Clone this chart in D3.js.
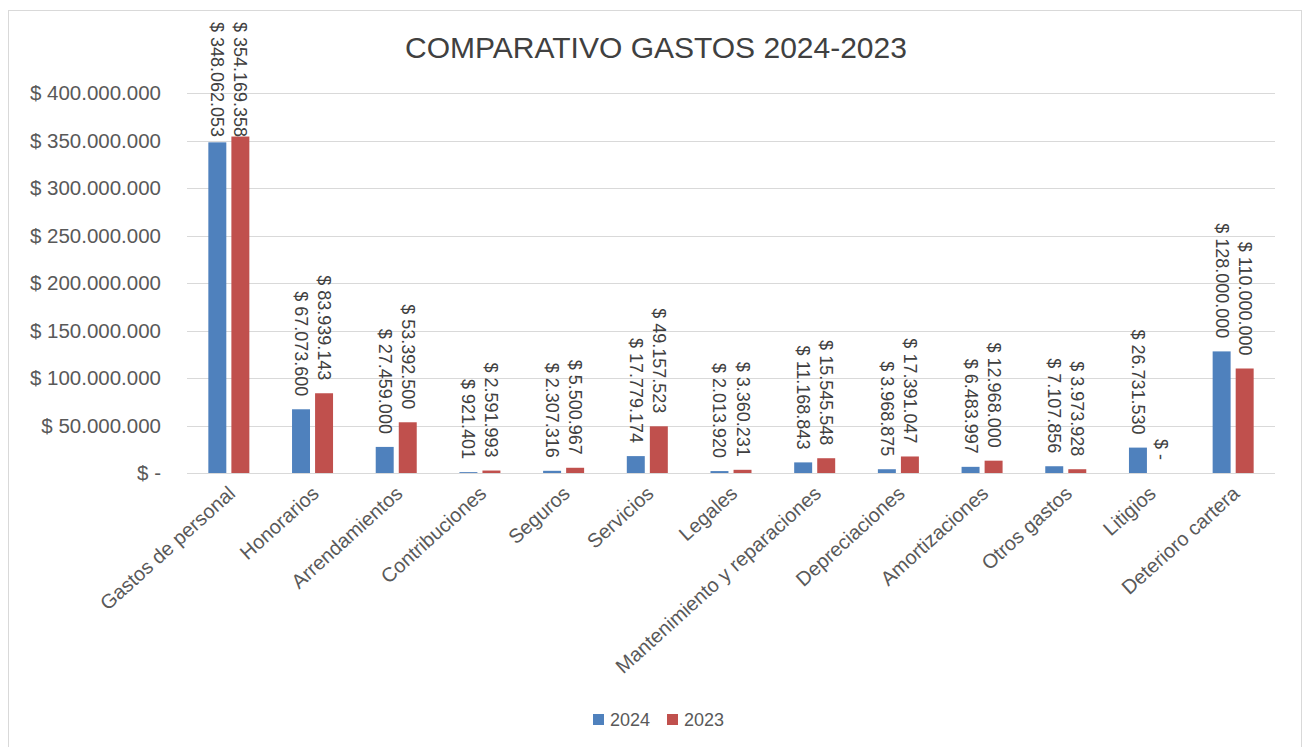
<!DOCTYPE html>
<html>
<head>
<meta charset="utf-8">
<script src="https://cdn.jsdelivr.net/npm/d3@7"></script>
<style>
  html, body { margin: 0; padding: 0; background: #fff; }
  svg { display: block; font-family: "Liberation Sans", Arial, sans-serif; }
</style>
</head>
<body>
<svg id="chart" width="1304" height="747"></svg>
<script>
const title = "COMPARATIVO GASTOS 2024-2023";
const categories = ["Gastos de personal", "Honorarios", "Arrendamientos", "Contribuciones", "Seguros", "Servicios", "Legales", "Mantenimiento y reparaciones", "Depreciaciones", "Amortizaciones", "Otros gastos", "Litigios", "Deterioro cartera"];
const seriesNames = ["2024", "2023"];
const values2024 = [348062053, 67073600, 27459000, 921401, 2307316, 17779174, 2013920, 11168843, 3968875, 6483997, 7107856, 26731530, 128000000];
const values2023 = [354169358, 83939143, 53392500, 2591993, 5500967, 49157523, 3360231, 15545548, 17391047, 12968000, 3973928, 0, 110000000];
const yTicks = [0, 50000000, 100000000, 150000000, 200000000, 250000000, 300000000, 350000000, 400000000];
const colors = ["#4F81BD", "#C0504D"];

(function() {
const locale = d3.formatLocale({decimal: ",", thousands: ".", grouping: [3], currency: ["$", ""]});
const fmt = locale.format(",d");
const money = v => v === 0 ? "$ -" : "$ " + fmt(v);

const svg = d3.select("#chart");
const pLeft = 187, pRight = 1275, pTop = 93, pBottom = 473;

// outer frame
svg.append("rect").attr("x", 8.5).attr("y", 10.5).attr("width", 1293).attr("height", 745)
  .attr("fill", "#fff").attr("stroke", "#D9D9D9").attr("stroke-width", 1);

const y = d3.scaleLinear().domain([0, 400000000]).range([pBottom, pTop]);
const x0 = d3.scaleBand().domain(categories).range([pLeft, pRight]).padding(0);
const bw = x0.bandwidth();
const x1 = d3.scaleBand().domain(seriesNames).range([bw * 0.255, bw * 0.745]).paddingInner(0.22);

// gridlines
svg.append("g").selectAll("line").data(yTicks).join("line")
  .attr("x1", pLeft).attr("x2", pRight)
  .attr("y1", d => Math.round(y(d)) + 0.5).attr("y2", d => Math.round(y(d)) + 0.5)
  .attr("stroke", "#D9D9D9").attr("stroke-width", 1);

// y tick labels
svg.append("g").selectAll("text").data(yTicks).join("text")
  .attr("x", 161).attr("y", d => y(d)).attr("dy", "0.36em")
  .attr("text-anchor", "end").attr("font-size", 20.5).attr("fill", "#595959")
  .text(d => money(d));

// title
svg.append("text").attr("x", 656).attr("y", 58).attr("text-anchor", "middle")
  .attr("font-size", 30).attr("fill", "#404040").text(title);

const data = categories.map((c, i) => ({cat: c, vals: [values2024[i], values2023[i]]}));

const groups = svg.append("g").selectAll("g").data(data).join("g")
  .attr("transform", d => `translate(${x0(d.cat)},0)`);

groups.selectAll("rect").data(d => d.vals.map((v, k) => ({s: seriesNames[k], v, k}))).join("rect")
  .attr("x", d => x1(d.s)).attr("width", x1.bandwidth())
  .attr("y", d => y(d.v)).attr("height", d => pBottom - y(d.v))
  .attr("fill", d => colors[d.k]);

// data labels rotated 90deg
groups.each(function(d) {
  const g = d3.select(this);
  d.vals.forEach((v, k) => {
    const cx = x1(seriesNames[k]) + x1.bandwidth() / 2;
    const t = g.append("text").attr("font-size", 18).attr("fill", "#404040")
      .attr("dominant-baseline", "central").text(money(v));
    const len = t.node().getComputedTextLength();
    const startY = Math.max(22, y(v) - 13 - len);
    t.attr("transform", `translate(${cx},${startY}) rotate(90)`);
  });
});

// category labels
svg.append("g").selectAll("text").data(categories).join("text")
  .attr("transform", d => `translate(${x0(d) + bw / 2 + 3},${490}) rotate(-42)`)
  .attr("text-anchor", "end").attr("dy", "0.35em")
  .attr("font-size", 20).attr("fill", "#595959").text(d => d);

// legend
const legend = svg.append("g");
const lx = [593, 667];
seriesNames.forEach((s, k) => {
  legend.append("rect").attr("x", lx[k]).attr("y", 714).attr("width", 11).attr("height", 11).attr("fill", colors[k]);
  legend.append("text").attr("x", lx[k] + 17).attr("y", 726).attr("font-size", 18).attr("fill", "#595959").text(s);
});
})();
</script>
</body>
</html>
